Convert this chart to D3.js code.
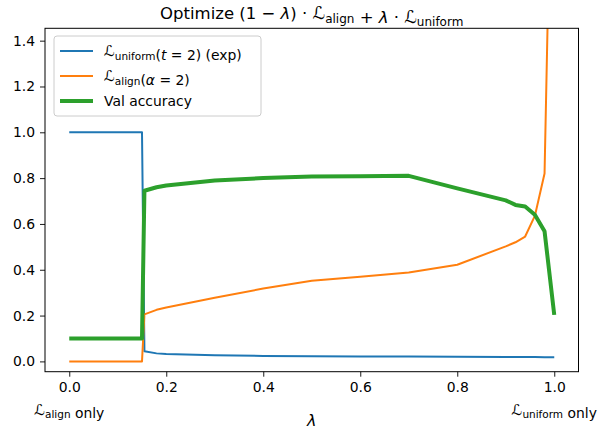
<!DOCTYPE html>
<html>
<head>
<meta charset="utf-8">
<script src="https://cdn.jsdelivr.net/npm/d3@7"></script>
<style>
  body { margin: 0; background: #fff; }
  text { font-family: "DejaVu Sans", sans-serif; fill: #000; }
</style>
</head>
<body>
<div id="chart"></div>
<script>
// data
var lambdas = [0, 0.05, 0.1, 0.15, 0.155, 0.18, 0.2, 0.3, 0.4, 0.5, 0.6, 0.7, 0.8, 0.9, 0.92, 0.94, 0.96, 0.98, 1.0];
var uniformLoss = [1.0, 1.0, 1.0, 1.0, 0.044, 0.035, 0.032, 0.027, 0.024, 0.022, 0.021, 0.021, 0.02, 0.019, 0.019, 0.019, 0.019, 0.018, 0.018];
var alignLoss = [0, 0, 0, 0, 0.205, 0.225, 0.235, 0.278, 0.318, 0.352, 0.37, 0.388, 0.422, 0.502, 0.52, 0.545, 0.635, 0.82, 2.9];
var valAcc = [0.1, 0.1, 0.1, 0.1, 0.745, 0.76, 0.768, 0.79, 0.8, 0.807, 0.808, 0.81, 0.755, 0.703, 0.683, 0.676, 0.64, 0.568, 0.203];
var xTicks = [0, 0.2, 0.4, 0.6, 0.8, 1.0];
var yTicks = [0, 0.2, 0.4, 0.6, 0.8, 1.0, 1.2, 1.4];

var W = 599, H = 429;
var margin = {top: 28.3, right: 20.5, bottom: 57.3, left: 45};
var width = W - margin.left - margin.right,
    height = H - margin.top - margin.bottom;

var svg = d3.select("#chart").append("svg")
    .attr("width", W).attr("height", H);

var g = svg.append("g")
    .attr("transform", "translate(" + margin.left + "," + margin.top + ")");

var x = d3.scaleLinear().domain([-0.05, 1.05]).range([0, width]);
var y = d3.scaleLinear().domain([-0.045, 1.454]).range([height, 0]);

g.append("defs").append("clipPath").attr("id", "clip")
  .append("rect").attr("width", width).attr("height", height);

// series
var series = [
  {vals: uniformLoss, color: "#1f77b4", w: 2},
  {vals: alignLoss, color: "#ff7f0e", w: 2},
  {vals: valAcc, color: "#2ca02c", w: 4}
];
var line = d3.line()
  .x(function(d) { return x(d[0]); })
  .y(function(d) { return y(d[1]); });

g.append("g").attr("clip-path", "url(#clip)")
  .selectAll("path").data(series).enter().append("path")
    .attr("fill", "none")
    .attr("stroke", function(d) { return d.color; })
    .attr("stroke-width", function(d) { return d.w; })
    .attr("stroke-linejoin", "round")
    .attr("d", function(d) { return line(lambdas.map(function(l, i) { return [l, d.vals[i]]; })); });

// axes
var xAxis = g.append("g")
  .attr("transform", "translate(0," + height + ")")
  .call(d3.axisBottom(x).tickValues(xTicks).tickFormat(d3.format(".1f")).tickSize(5).tickPadding(5));
var yAxis = g.append("g")
  .call(d3.axisLeft(y).tickValues(yTicks).tickFormat(d3.format(".1f")).tickSize(5).tickPadding(5));
[xAxis, yAxis].forEach(function(a) {
  a.select(".domain").remove();
  a.selectAll("line").attr("stroke", "#000").attr("stroke-width", 0.9);
  a.selectAll("text").style("font-size", "13.9px").style("font-family", "DejaVu Sans").attr("fill", "#000");
});

// frame
g.append("rect").attr("width", width).attr("height", height)
  .attr("fill", "none").attr("stroke", "#000").attr("stroke-width", 1);

// calligraphic L with subscript
function calL(sel, sub, size, subSize) {
  sel.append("tspan").text("ℒ").style("font-style", "italic").style("font-size", size + "px");
  sel.append("tspan").text(sub).attr("dy", 3.5).style("font-size", subSize + "px");
  sel.append("tspan").attr("dy", -3.5).text("");
}

// second line of x tick labels
var extra = [{v: 0, sub: "align"}, {v: 1, sub: "uniform"}];
extra.forEach(function(e) {
  var t = g.append("text")
    .attr("x", x(e.v)).attr("y", height + 43)
    .attr("text-anchor", "middle").style("font-size", "13.9px");
  calL(t, e.sub, 15, 10.5);
  t.append("tspan").text(" only");
});

// x label
g.append("text").attr("x", width / 2).attr("y", height + 54)
  .attr("text-anchor", "middle").style("font-size", "16px").style("font-style", "italic").text("λ");

// title
var title = svg.append("text").attr("x", margin.left + width / 2).attr("y", 19)
  .attr("text-anchor", "middle").style("font-size", "16.5px");
title.append("tspan").text("Optimize (1 − ");
title.append("tspan").text("λ").style("font-style", "italic");
title.append("tspan").text(") · ");
calL(title, "align", 17.5, 12);
title.append("tspan").text(" + ");
title.append("tspan").text("λ").style("font-style", "italic");
title.append("tspan").text(" · ");
calL(title, "uniform", 17.5, 12);

// legend
var legend = g.append("g").attr("transform", "translate(9,7.7)");
legend.append("rect").attr("width", 207).attr("height", 80).attr("rx", 3)
  .attr("fill", "#fff").attr("fill-opacity", 0.8).attr("stroke", "#ccc").attr("stroke-width", 1);
var legendRows = [
  {sub: "uniform", sym: "t", rest: " = 2) (exp)", color: "#1f77b4", w: 2},
  {sub: "align", sym: "α", rest: " = 2)", color: "#ff7f0e", w: 2},
  {text: "Val accuracy", color: "#2ca02c", w: 4}
];
legendRows.forEach(function(r, i) {
  var cy = 15 + i * 25;
  legend.append("line").attr("x1", 6).attr("x2", 39).attr("y1", cy).attr("y2", cy)
    .attr("stroke", r.color).attr("stroke-width", r.w);
  var t = legend.append("text").attr("x", 50).attr("y", cy + 5).style("font-size", "13.9px");
  if (r.text) t.text(r.text);
  else {
    calL(t, r.sub, 15, 10.5);
    t.append("tspan").text("(");
    t.append("tspan").text(r.sym).style("font-style", "italic");
    t.append("tspan").text(r.rest);
  }
});
</script>
</body>
</html>
